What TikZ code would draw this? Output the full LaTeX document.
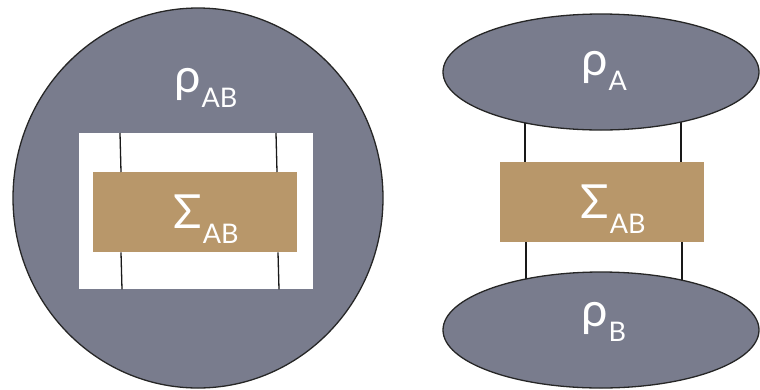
\documentclass[tikz,border=0pt]{standalone}
\usepackage{fontspec}
\setmainfont{Lato}
\usetikzlibrary{shapes.geometric,backgrounds}
\definecolor{stategray}{HTML}{797C8D}
\definecolor{chantan}{HTML}{B8976A}
\newcommand{\mainsz}{\fontsize{47}{47}\selectfont}
\newcommand{\subsz}{\fontsize{27}{27}\selectfont}
\newcommand{\lbl}[2]{{\mainsz #1}\hspace{1pt}\raisebox{-15pt}{\subsz #2}}
\begin{document}
\begin{tikzpicture}[x=1pt,y=-1pt,
  statefill/.style={ellipse,draw=black!85,line width=1.3pt,fill=stategray,inner sep=0pt},
  chanbox/.style={rectangle,fill=chantan,inner sep=0pt,anchor=north west},
  wire/.style={draw=black!90,line width=1.3pt},
  txt/.style={text=white,inner sep=0pt,anchor=base west}]
\useasboundingbox (0,0) rectangle (760,389);
% left: joint state
\node[statefill,minimum width=370pt,minimum height=380pt] (rhoAB) at (198,198) {};
\node[rectangle,fill=white,inner sep=0pt,anchor=north west,minimum width=234pt,minimum height=156pt] (wbox) at (79,133) {};
\node[chanbox,minimum width=204pt,minimum height=80pt] (sboxL) at (93,172) {};
\draw[wire] (wbox.north -| 120,0) -- (sboxL.north -| 121,0);
\draw[wire] (wbox.north -| 276,0) -- (sboxL.north -| 277,0);
\draw[wire] (sboxL.south -| 121,0) -- (wbox.south -| 122,0);
\draw[wire] (sboxL.south -| 278,0) -- (wbox.south -| 279,0);
\node[txt] (lrhoAB) at (174,92) {\lbl{ρ}{AB}};
\node[txt] (lsigL) at (173,228) {\lbl{Σ}{AB}};
% right: product state
\node[statefill,minimum width=316pt,minimum height=116pt] (rhoA) at (601,72) {};
\node[statefill,minimum width=316pt,minimum height=116pt] (rhoB) at (601,330) {};
\node[chanbox,minimum width=204pt,minimum height=80pt] (sboxR) at (500,162) {};
\begin{pgfonlayer}{background}
\draw[wire] (rhoA.center -| 525,0) -- (sboxR.north -| 525,0);
\draw[wire] (rhoA.center -| 681,0) -- (sboxR.north -| 681,0);
\draw[wire] (sboxR.south -| 526,0) -- (rhoB.center -| 526,0);
\draw[wire] (sboxR.south -| 682,0) -- (rhoB.center -| 682,0);
\end{pgfonlayer}
\node[txt] (lrhoA) at (581,75) {\lbl{ρ}{A}};
\node[txt] (lrhoB) at (581,326) {\lbl{ρ}{B}};
\node[txt] (lsigR) at (580,218) {\lbl{Σ}{AB}};
\end{tikzpicture}
\end{document}
